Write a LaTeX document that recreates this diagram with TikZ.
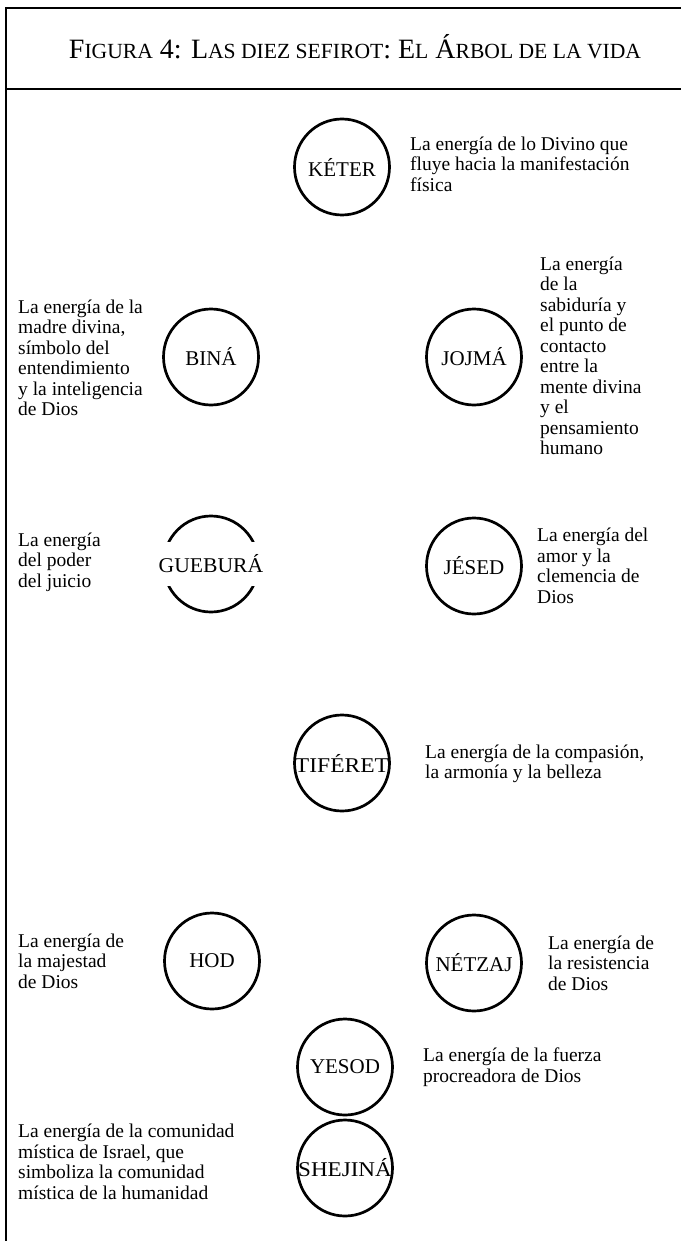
\documentclass[tikz,border=0pt]{standalone}
\usepackage{fontspec}
\usepackage{graphicx}
\usetikzlibrary{shapes.geometric}
\setmainfont{Liberation Serif}
\newcommand\bodyfont{\fontsize{19.5}{20.5}\selectfont}
\newcommand\labfont{\fontsize{21}{21}\selectfont}
\newcommand\bigcapfont{\fontsize{28}{28}\selectfont}
\newcommand\SCx[1]{{\fontsize{21.6}{21.6}\selectfont #1}}
\begin{document}
\begin{tikzpicture}[x=1pt,y=-1pt,
  sefira/.style={draw, line width=2.7pt, ellipse, minimum width=95pt, minimum height=96pt, inner sep=0pt},
  lab/.style={font=\labfont, inner sep=0pt},
  desc/.style={font=\bodyfont, align=left, inner sep=0pt},
  frame/.style={line width=2pt}]
\useasboundingbox (0,0) rectangle (681,1241);
\fill[white] (0,0) rectangle (681,1241);
% frame
\coordinate (tl) at (6,8);
\coordinate (tr) at (681,8);
\coordinate (bl) at (6,1241);
\coordinate (rl) at (6,89);
\coordinate (rr) at (681,89);
\draw[frame] (bl) -- (tl) -- (tr);
\draw[frame] (rl) -- (rr);
\node[inner sep=0pt, anchor=base] (title) at (355,59) {\bigcapfont F\SCx{IGURA} 4: L\SCx{AS DIEZ SEFIROT}: E\SCx{L} Á\SCx{RBOL DE LA VIDA}};
% circles
\node[sefira] (keter) at (342,167) {};
\node[lab] at (keter) {KÉTER};
\node[sefira] (bina) at (211,357) {};
\node[lab] at (bina) {BINÁ};
\node[sefira] (jojma) at (474,357) {};
\node[lab] at (jojma) {JOJMÁ};
\node[sefira] (gebura) at (211,564) {};
\node[lab, fill=white, inner xsep=1pt, minimum height=44pt] at (gebura) {\scalebox{1.03}[1]{GUEBURÁ}};
\node[sefira] (jesed) at (474,566) {};
\node[lab] at (jesed) {JÉSED};
\node[sefira] (tiferet) at (342,763) {};
\node[lab] at (tiferet) {\scalebox{1.12}[1]{TIFÉRET}};
\node[sefira] (hod) at (212,961) {};
\node[lab] at (hod) {HOD};
\node[sefira] (netzaj) at (474,963) {};
\node[lab] at (netzaj) {NÉTZAJ};
\node[sefira] (yesod) at (345,1067) {};
\node[lab] at (yesod) {YESOD};
\node[sefira] (shejina) at (345,1168) {};
\node[lab] at (shejina) {\scalebox{1.1}[1]{SHEJINÁ}};
% descriptions
\node[desc, anchor=west] (dketer) at (410,164) {La energía de lo Divino que\\fluye hacia la manifestación\\física};
\node[desc, anchor=west] (djojma) at (540,356) {La energía\\de la\\sabiduría y\\el punto de\\contacto\\entre la\\mente divina\\y el\\pensamiento\\humano};
\node[desc, anchor=west] (dbina) at (18,358) {La energía de la\\madre divina,\\símbolo del\\entendimiento\\y la inteligencia\\de Dios};
\node[desc, anchor=west] (dgebura) at (18,562) {La energía\\del poder\\del juicio};
\node[desc, anchor=west] (djesed) at (537,566) {La energía del\\amor y la\\clemencia de\\Dios};
\node[desc, anchor=west] (dtiferet) at (425,764) {La energía de la compasión,\\la armonía y la belleza};
\node[desc, anchor=west] (dhod) at (18,961) {La energía de\\la majestad\\de Dios};
\node[desc, anchor=west] (dnetzaj) at (548,963) {La energía de\\la resistencia\\de Dios};
\node[desc, anchor=west] (dyesod) at (423,1067) {La energía de la fuerza\\procreadora de Dios};
\node[desc, anchor=west] (dshejina) at (18,1162) {La energía de la comunidad\\mística de Israel, que\\simboliza la comunidad\\mística de la humanidad};
\end{tikzpicture}
\end{document}
